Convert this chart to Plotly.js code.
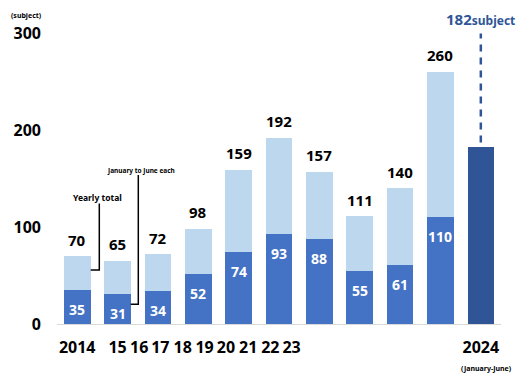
<!DOCTYPE html>
<html>
<head>
<meta charset="utf-8">
<script src="https://cdn.plot.ly/plotly-3.0.1.min.js"></script>
<style>html,body{margin:0;padding:0;background:#fff;}#chart{width:530px;height:376px;}</style>
</head>
<body>
<div id="chart"></div>
<script>
// ---- data ----
const years = ["2014","2015","2016","2017","2018","2019","2020","2021","2022","2023","2024"];
const janJune = [35, 31, 34, 52, 74, 93, 88, 55, 61, 110, 182];
const yearlyTotal = [70, 65, 72, 98, 159, 192, 157, 111, 140, 260, null];
const tickLabels = ["2014","15","16","17","18","19","20","21","22","23","2024"];
const yTickVals = [0, 100, 200, 300];

// ---- layout constants ----
const FONT = "Noto Sans, Open Sans, sans-serif";
const L = 57, R = 29, T = 33, B = 52, W = 530, H = 376;
const PW = W - L - R, PH = H - T - B;
const px = v => (v - L) / PW;
const py = v => (H - B - v) / PH;
// positions of the x labels (data units), as drawn in the reference
const tickPos = [0, 1.0, 1.536, 2.061, 2.613, 3.156, 3.686, 4.236, 4.786, 5.311, 10];

const idx = years.map((_, i) => i);
const nYear = years.length;
const colors = idx.map(i => i === nYear - 1 ? "#2F5597" : "#4472C4");
const remainder = idx.map(i => yearlyTotal[i] == null ? null : yearlyTotal[i] - janJune[i]);

const traces = [
  {type: "bar", x: idx, y: janJune, width: 0.66, marker: {color: colors},
   hoverinfo: "none", name: "January to June each"},
  {type: "bar", x: idx, y: remainder, width: 0.66, marker: {color: "#BDD7EE"},
   hoverinfo: "none", name: "Yearly total"}
];

const annotations = [];
idx.forEach(i => {
  if (yearlyTotal[i] != null) {
    annotations.push({x: i, y: yearlyTotal[i], xref: "x", yref: "y", text: String(yearlyTotal[i]),
      showarrow: false, yanchor: "middle", yshift: 16.5,
      font: {family: FONT, size: 15, color: "#000", weight: 700}});
    annotations.push({x: i, y: janJune[i], xref: "x", yref: "y", text: String(janJune[i]),
      showarrow: false, yanchor: "middle", yshift: -19.5,
      font: {family: FONT, size: 14, color: "#fff", weight: 700}});
  } else {
    annotations.push({x: i, y: janJune[i], xref: "x", yref: "y",
      text: String(janJune[i]) + "<span style='font-size:12px'>subject</span>",
      showarrow: false, yanchor: "middle", yshift: 128,
      font: {family: FONT, size: 15, color: "#2F5597", weight: 700}});
  }
});
annotations.push({x: px(26), y: py(15), xref: "paper", yref: "paper", text: "(subject)",
  showarrow: false, xanchor: "center", yanchor: "middle",
  font: {family: FONT, size: 7, color: "#000", weight: 700}});
annotations.push({x: px(486), y: py(368), xref: "paper", yref: "paper", text: "(January-June)",
  showarrow: false, xanchor: "center", yanchor: "middle",
  font: {family: FONT, size: 7, color: "#000", weight: 700}});
annotations.push({x: px(97.5), y: py(197.3), xref: "paper", yref: "paper", text: "Yearly total",
  showarrow: false, xanchor: "center", yanchor: "middle",
  font: {family: FONT, size: 8.5, color: "#000", weight: 700}});
annotations.push({x: px(141.3), y: py(170), xref: "paper", yref: "paper", text: "January to June each",
  showarrow: false, xanchor: "center", yanchor: "middle",
  font: {family: FONT, size: 6.5, color: "#000", weight: 700}});

const shapes = [
  {type: "path", xref: "paper", yref: "paper",
   path: `M ${px(99.3)} ${py(203.5)} L ${px(99.3)} ${py(270)} L ${px(90.7)} ${py(270)}`,
   line: {color: "#000", width: 1.5}},
  {type: "path", xref: "paper", yref: "paper",
   path: `M ${px(138.3)} ${py(175)} L ${px(138.3)} ${py(304.3)} L ${px(130.7)} ${py(304.3)}`,
   line: {color: "#000", width: 1.5}},
  {type: "line", xref: "x", yref: "y", ysizemode: "pixel", yanchor: janJune[nYear - 1],
   x0: nYear - 1, x1: nYear - 1, y0: 5, y1: 114,
   line: {color: "#2F5597", width: 2.5, dash: "7px,6px"}}
];

const layout = {
  width: W, height: H,
  margin: {l: L, r: R, t: T, b: B, pad: 0},
  paper_bgcolor: "#fff", plot_bgcolor: "#fff",
  barmode: "stack", showlegend: false,
  xaxis: {range: [-0.5, 10.5], tickmode: "array", tickvals: tickPos, ticktext: tickLabels,
    showgrid: false, zeroline: false, showline: true, linecolor: "#D9D9D9", linewidth: 1,
    ticks: "", ticklabelstandoff: 9, fixedrange: true,
    tickfont: {family: FONT, size: 16, color: "#000", weight: 700}},
  yaxis: {range: [0, 300], tickmode: "array", tickvals: yTickVals,
    showgrid: false, zeroline: false, showline: false, ticks: "", ticklabelstandoff: 15,
    fixedrange: true,
    tickfont: {family: FONT, size: 16, color: "#000", weight: 700}},
  annotations: annotations,
  shapes: shapes
};

Plotly.newPlot("chart", traces, layout, {displayModeBar: false, staticPlot: true});
</script>
</body>
</html>
